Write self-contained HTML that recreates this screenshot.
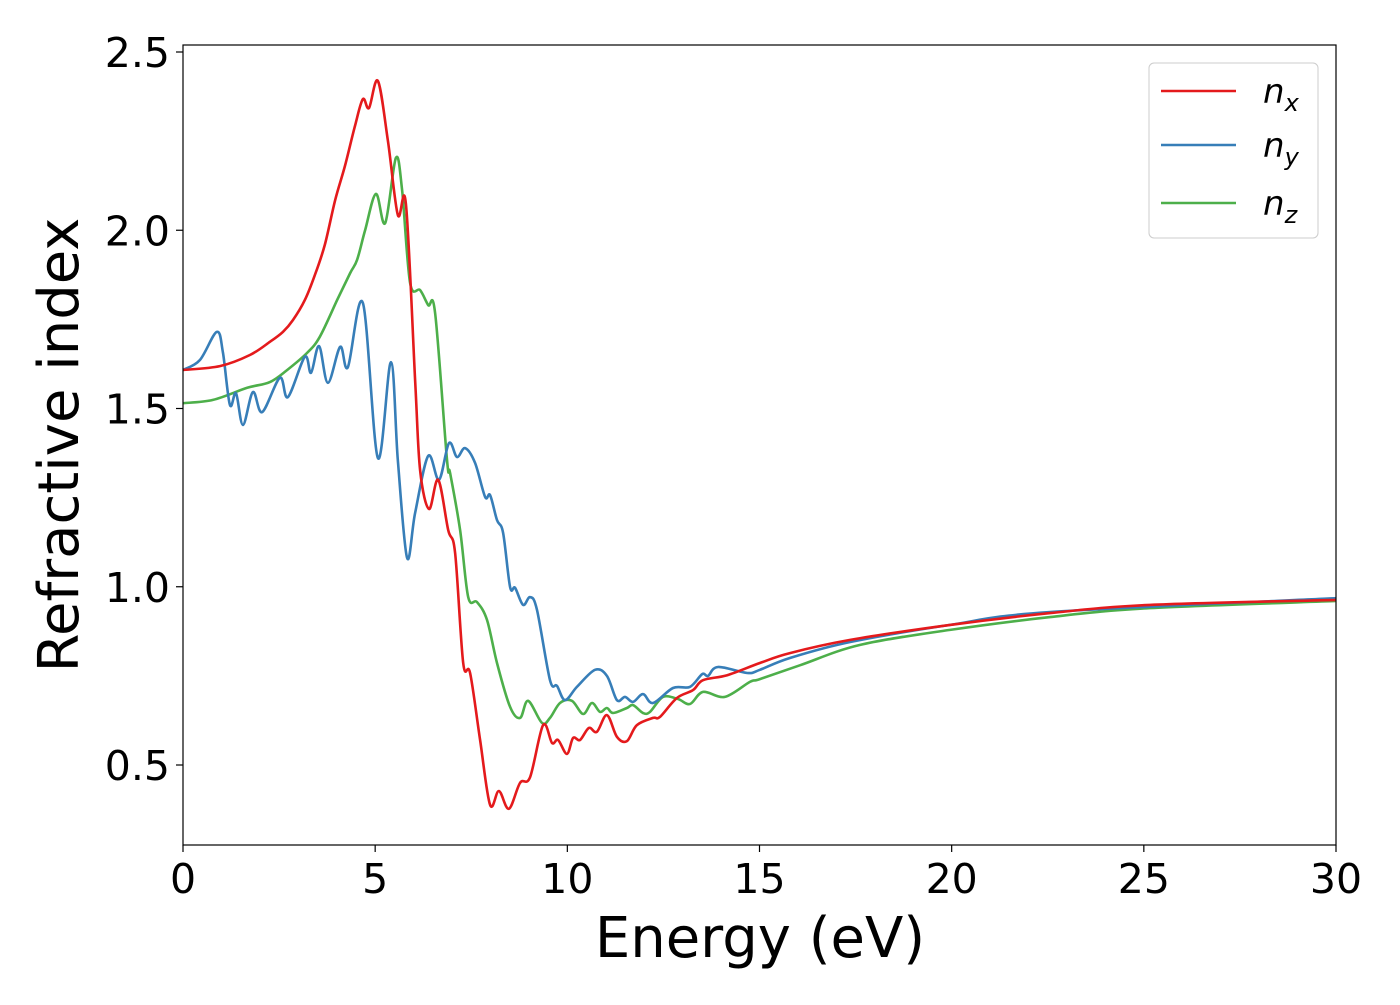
<!DOCTYPE html>
<html><head><meta charset="utf-8"><style>
body{margin:0;background:#fff}
svg text{font-family:"DejaVu Sans","Liberation Sans",sans-serif}
</style></head><body>
<svg id="chart" width="1400" height="1000" xmlns="http://www.w3.org/2000/svg">
<rect width="1400" height="1000" fill="#fff"/>
<g id="series"></g>
<rect x="183" y="45" width="1153" height="800" fill="none" stroke="#000" stroke-width="1.2"/>
<g id="xticks"></g><g id="yticks"></g>
<text x="760" y="957" font-size="56" text-anchor="middle">Energy (eV)</text>
<text transform="translate(78,445) rotate(-90)" font-size="56" text-anchor="middle">Refractive index</text>
<g>
<rect x="1149" y="63" width="169" height="175" rx="5" fill="#fff" fill-opacity="0.8" stroke="#ccc" stroke-width="1"/>
<line x1="1161" y1="91" x2="1236" y2="91" stroke="#e41a1c" stroke-width="2.5"/>
<line x1="1161" y1="145" x2="1236" y2="145" stroke="#377eb8" stroke-width="2.5"/>
<line x1="1161" y1="203" x2="1236" y2="203" stroke="#4daf4a" stroke-width="2.5"/>
<text x="1263" y="103" font-size="34" font-style="italic">n<tspan font-size="24" dy="8">x</tspan></text>
<text x="1263" y="157" font-size="34" font-style="italic">n<tspan font-size="24" dy="8">y</tspan></text>
<text x="1263" y="215" font-size="34" font-style="italic">n<tspan font-size="24" dy="8">z</tspan></text>
</g>
</svg>
<script>
const xTicks=[0,5,10,15,20,25,30];
const yTicks=[0.5,1.0,1.5,2.0,2.5];
const yTickLabels=["0.5","1.0","1.5","2.0","2.5"];
const nxE=[0,0.96,1.74,2.26,2.6,2.86,3.17,3.43,3.69,3.96,4.22,4.48,4.68,4.84,5.07,5.33,5.59,5.8,6.04,6.17,6.4,6.64,6.9,7.08,7.29,7.47,7.73,7.99,8.22,8.48,8.77,9.03,9.37,9.6,9.76,9.99,10.15,10.33,10.56,10.77,11.03,11.29,11.55,11.81,12.23,12.41,12.85,13.27,13.53,14.16,15.01,15.79,17.36,19.96,22.56,25.16,30];
const nxV=[1.608,1.619,1.65,1.687,1.715,1.748,1.804,1.874,1.959,2.085,2.183,2.295,2.368,2.343,2.419,2.253,2.043,2.074,1.58,1.327,1.218,1.3,1.159,1.095,0.786,0.758,0.57,0.388,0.427,0.377,0.45,0.466,0.612,0.562,0.57,0.531,0.576,0.57,0.604,0.593,0.64,0.579,0.567,0.612,0.632,0.635,0.688,0.71,0.738,0.752,0.786,0.814,0.851,0.893,0.926,0.949,0.963];
const nyE=[0,0.44,0.88,1.04,1.22,1.38,1.56,1.82,2.06,2.52,2.73,3.17,3.33,3.54,3.77,4.09,4.29,4.68,5.07,5.41,5.59,5.83,6.04,6.38,6.66,6.92,7.13,7.34,7.6,7.86,7.99,8.17,8.33,8.51,8.64,8.85,9.03,9.21,9.55,9.73,9.94,10.25,10.72,11.03,11.29,11.5,11.71,11.97,12.23,12.75,13.19,13.51,13.66,13.92,14.68,15.01,15.79,17.36,19.96,22.56,30];
const nyV=[1.608,1.636,1.715,1.656,1.51,1.543,1.454,1.546,1.49,1.586,1.532,1.645,1.6,1.675,1.572,1.673,1.616,1.796,1.361,1.63,1.356,1.081,1.207,1.367,1.3,1.403,1.364,1.389,1.347,1.252,1.257,1.187,1.151,0.999,0.997,0.949,0.971,0.935,0.738,0.722,0.682,0.719,0.767,0.75,0.682,0.691,0.677,0.699,0.674,0.716,0.719,0.755,0.75,0.775,0.758,0.767,0.8,0.845,0.893,0.929,0.968];
const nzE=[0,0.78,1.67,2.26,2.71,3.23,3.56,4.01,4.35,4.53,4.74,5.02,5.26,5.54,5.7,5.91,6.17,6.38,6.56,6.87,6.95,7.21,7.42,7.65,7.91,8.17,8.51,8.77,8.98,9.34,9.55,9.81,10.12,10.41,10.64,10.85,11.03,11.19,11.55,11.71,11.97,12.15,12.49,12.88,13.19,13.53,14.1,14.75,15.01,16.06,17.62,19.96,22.56,25.16,30];
const nzV=[1.515,1.524,1.558,1.574,1.608,1.656,1.701,1.804,1.88,1.917,2.001,2.102,2.02,2.203,2.113,1.852,1.832,1.79,1.768,1.356,1.319,1.159,0.971,0.957,0.907,0.786,0.663,0.632,0.68,0.618,0.632,0.674,0.68,0.643,0.674,0.649,0.66,0.646,0.66,0.668,0.646,0.649,0.691,0.685,0.671,0.705,0.691,0.733,0.741,0.78,0.837,0.879,0.915,0.94,0.96];

const X0=183,X1=1336,YB=765,YT=52;
function xS(e){return X0+(e-0)/(30-0)*(X1-X0);}
function yS(v){return YB-(v-0.5)/(2.5-0.5)*(YB-YT);}
const NS="http://www.w3.org/2000/svg";
function path(E,V){
  const p=E.map((e,i)=>[xS(e),yS(V[i])]);
  let d="M"+p[0][0].toFixed(1)+","+p[0][1].toFixed(1);
  for(let i=0;i<p.length-1;i++){
    const a=p[Math.max(0,i-1)],b=p[i],c=p[i+1],q=p[Math.min(p.length-1,i+2)];
    const c1=[b[0]+(c[0]-a[0])/6,b[1]+(c[1]-a[1])/6],c2=[c[0]-(q[0]-b[0])/6,c[1]-(q[1]-b[1])/6];
    d+=" C"+c1.map(v=>v.toFixed(1))+" "+c2.map(v=>v.toFixed(1))+" "+c.map(v=>v.toFixed(1));
  }
  return d;
}
const g=document.getElementById("series");
[["nz",nzE,nzV,"#4daf4a"],["ny",nyE,nyV,"#377eb8"],["nx",nxE,nxV,"#e41a1c"]].forEach(s=>{
  const el=document.createElementNS(NS,"path");
  el.setAttribute("d",path(s[1],s[2]));
  el.setAttribute("fill","none");el.setAttribute("stroke",s[3]);el.setAttribute("stroke-width","2.6");el.setAttribute("stroke-linejoin","round");
  
  
  g.appendChild(el);
});
const xt=document.getElementById("xticks");
xTicks.forEach(t=>{
  const l=document.createElementNS(NS,"line");
  l.setAttribute("x1",xS(t));l.setAttribute("x2",xS(t));l.setAttribute("y1",845);l.setAttribute("y2",852);l.setAttribute("stroke","#000");l.setAttribute("stroke-width","1.2");
  
  
  xt.appendChild(l);
  const tx=document.createElementNS(NS,"text");
  tx.setAttribute("x",xS(t));tx.setAttribute("y",893);tx.setAttribute("font-size","41");tx.setAttribute("text-anchor","middle");
  tx.textContent=String(t);
  
  
  xt.appendChild(tx);
});
const yt=document.getElementById("yticks");
yTicks.forEach((t,i)=>{
  const l=document.createElementNS(NS,"line");
  l.setAttribute("x1",176);l.setAttribute("x2",183);l.setAttribute("y1",yS(t));l.setAttribute("y2",yS(t));l.setAttribute("stroke","#000");l.setAttribute("stroke-width","1.2");
  
  
  yt.appendChild(l);
  const tx=document.createElementNS(NS,"text");
  tx.setAttribute("x",170);tx.setAttribute("y",yS(t)+15);tx.setAttribute("font-size","41");tx.setAttribute("text-anchor","end");
  tx.textContent=yTickLabels[i];
  
  
  yt.appendChild(tx);
});
</script>
</body></html>
